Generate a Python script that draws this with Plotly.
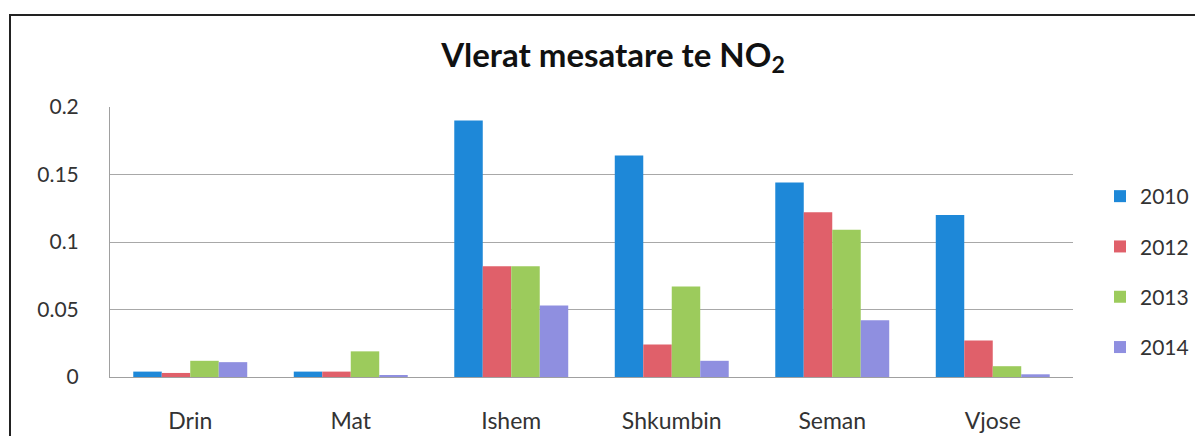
import plotly.graph_objects as go

rivers = ["Drin", "Mat", "Ishem", "Shkumbin", "Seman", "Vjose"]
years = ["2010", "2012", "2013", "2014"]
v2010 = [0.004, 0.004, 0.190, 0.164, 0.144, 0.120]
v2012 = [0.003, 0.004, 0.082, 0.024, 0.122, 0.027]
v2013 = [0.012, 0.019, 0.082, 0.067, 0.109, 0.008]
v2014 = [0.011, 0.0015, 0.053, 0.012, 0.042, 0.002]
series = [v2010, v2012, v2013, v2014]
colors = ["#1E88D8", "#E0606A", "#9CCB5C", "#8F8FE0"]

fig = go.Figure()
for yr, vals, c in zip(years, series, colors):
    fig.add_trace(go.Bar(x=rivers, y=vals, name=yr, marker=dict(color=c, line=dict(width=0)),
                         legendgroup=yr))

W, H = 1195, 436
L, T, R, B = 110, 107, 1195 - 1073, 436 - 377
pw, ph = W - L - R, H - T - B

def px(xpage):
    return (xpage - L) / pw

def py(ypage):
    return (H - B - ypage) / ph

fig.update_layout(
    width=W, height=H,
    margin=dict(l=L, r=R, t=T, b=B, autoexpand=False),
    paper_bgcolor="white", plot_bgcolor="white",
    font=dict(family="Lato, Open Sans, sans-serif", color="#333333", size=22),
    title=dict(text="<b>Vlerat mesatare te NO<sub>2</sub></b>", x=613 / W, xanchor="center",
               y=1 - 55 / H, yanchor="middle", font=dict(size=33, color="#111111")),
    barmode="group", bargap=0.29, bargroupgap=0.0,
    legend=dict(x=px(1100), xanchor="left", y=py(272), yanchor="middle",
                font=dict(size=21, color="#333333"), tracegroupgap=20,
                itemwidth=30, bgcolor="rgba(0,0,0,0)", borderwidth=0),
    xaxis=dict(showline=True, linecolor="#a0a0a0", linewidth=1, ticks="", automargin=False,
               tickfont=dict(size=23, color="#333333"), ticklabelstandoff=23),
    yaxis=dict(range=[0, 0.2], tickvals=[0, 0.05, 0.1, 0.15, 0.2],
               ticktext=["0", "0.05", "0.1", "0.15", "0.2"], automargin=False,
               showgrid=True, gridcolor="#a8a8a8", gridwidth=1, zeroline=False,
               showline=True, linecolor="#a0a0a0", linewidth=1, ticks="",
               tickfont=dict(size=21, color="#333333"), ticklabelstandoff=26),
    shapes=[dict(type="rect", xref="paper", yref="paper",
                 x0=px(10), x1=px(W + 40), y0=py(H + 40), y1=py(15),
                 line=dict(color="#222222", width=2), fillcolor="rgba(0,0,0,0)", layer="below")],
)

fig.write_html("out.html", config={"displayModeBar": False},
               post_script="document.body.style.margin='0';document.body.style.overflow='hidden';")
